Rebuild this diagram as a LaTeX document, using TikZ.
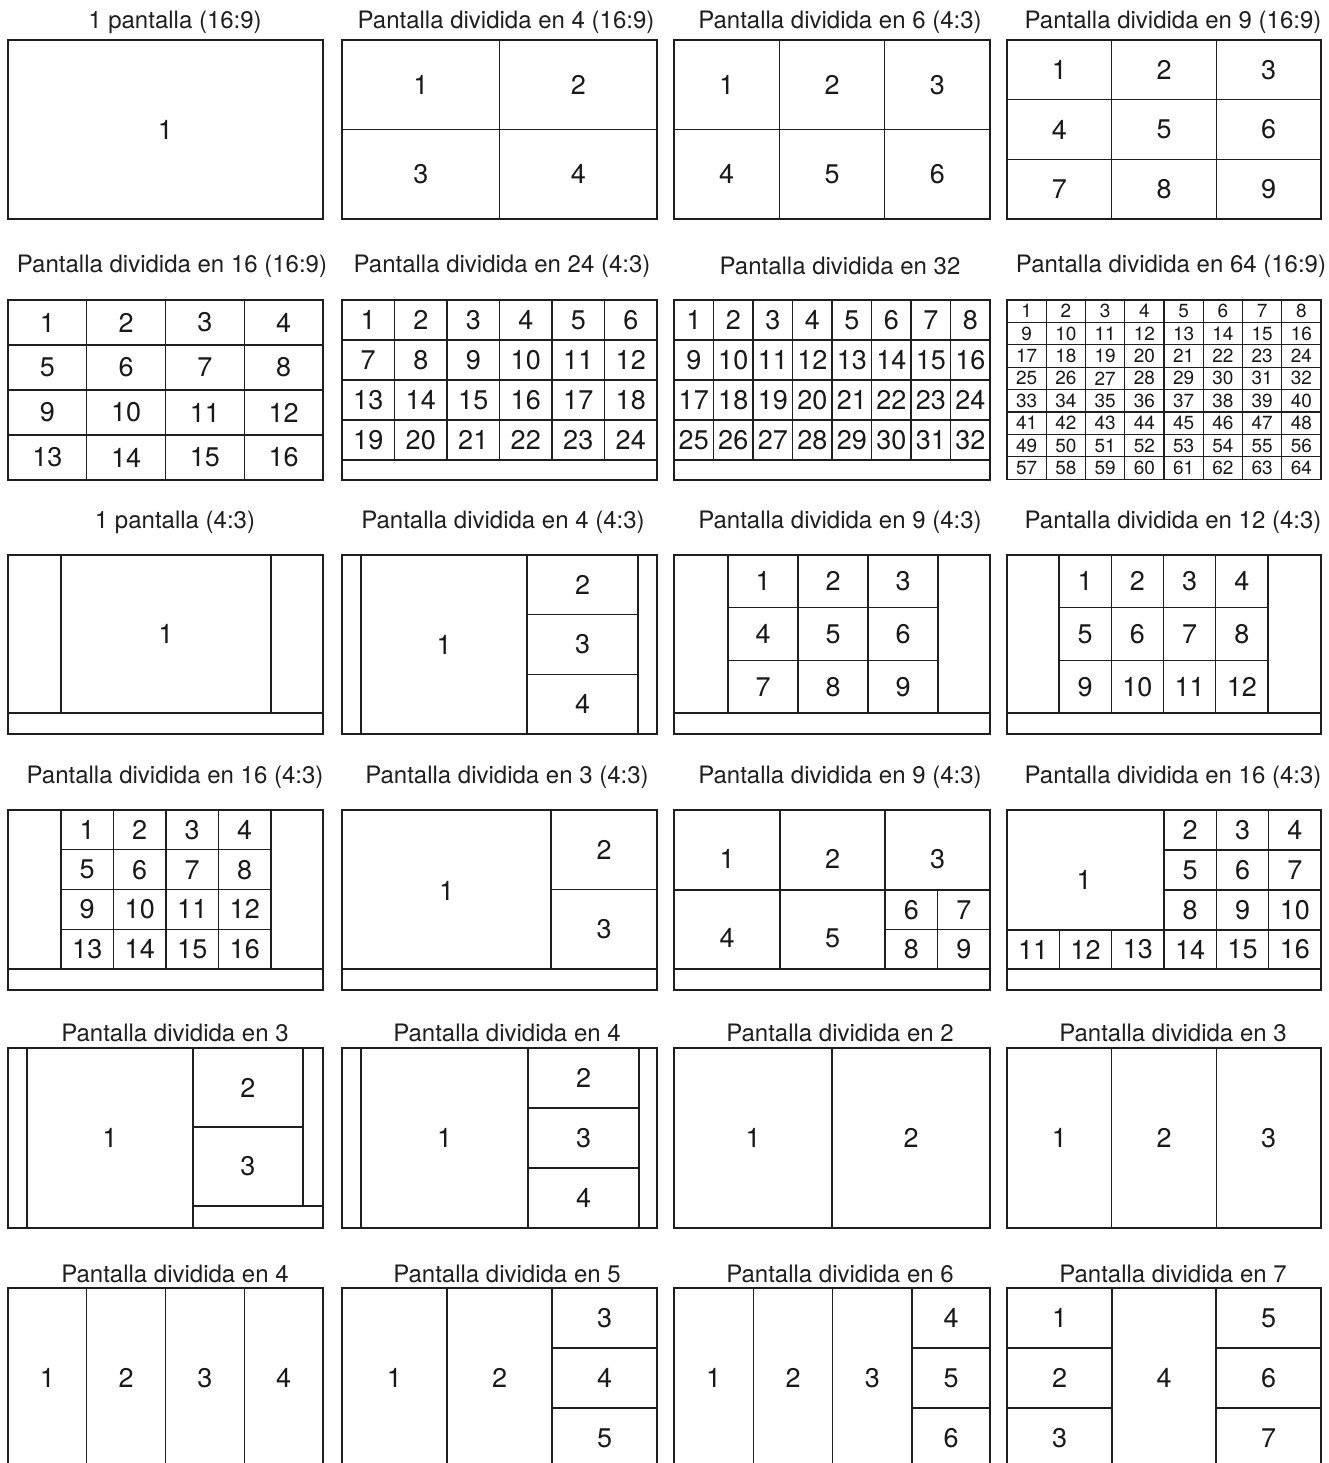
\documentclass[tikz,border=0pt]{standalone}
\usepackage{fontspec}
\setmainfont{TeX Gyre Heros}
\tikzset{
  ln/.style={draw=black!88, line width=1.3pt},
  ttl/.style={font=\fontsize{24}{28}\selectfont, text=black!88, inner sep=0pt},
  num/.style={font=\fontsize{27}{30}\selectfont, text=black!90, inner sep=0pt},
  snum/.style={font=\fontsize{19}{21}\selectfont, text=black!90, inner sep=0pt},
}
% #1 prefix, #2 x0, #3 y0, #4 cell w, #5 cell h, #6 cols, #7 rows, #8 first number, #9 style
\newcommand{\numgrid}[9]{%
  \foreach \rr in {1,...,#7}{%
    \foreach \cc in {1,...,#6}{%
      \pgfmathtruncatemacro{\cellnum}{#8+(\rr-1)*#6+\cc-1}%
      \draw[ln] ({#2+(\cc-1)*#4},{#3+(\rr-1)*#5}) rectangle ++(#4,#5);%
      \node[#9] (#1-\cellnum) at ({#2+(\cc-0.5)*#4},{#3+(\rr-0.5)*#5}) {\cellnum};%
    }%
  }%
}
\begin{document}
\begin{tikzpicture}[x=1pt,y=-1pt]
\useasboundingbox (0,0) rectangle (1328,1463);
\fill[white] (0,0) rectangle (1328,1463);

% ---------- titles ----------
\node[ttl] (t11) at (175,22) {1 pantalla (16:9)};
\node[ttl] (t12) at (506,22) {Pantalla dividida en 4 (16:9)};
\node[ttl] (t13) at (840,22) {Pantalla dividida en 6 (4:3)};
\node[ttl] (t14) at (1173,22) {Pantalla dividida en 9 (16:9)};

\node[ttl] (t21) at (172,266) {Pantalla dividida en 16 (16:9)};
\node[ttl] (t22) at (502,266) {Pantalla dividida en 24 (4:3)};
\node[ttl] (t23) at (840,266) {Pantalla dividida en 32};
\node[ttl] (t24) at (1171,266) {Pantalla dividida en 64 (16:9)};

\node[ttl] (t31) at (175,522) {1 pantalla (4:3)};
\node[ttl] (t32) at (503,522) {Pantalla dividida en 4 (4:3)};
\node[ttl] (t33) at (840,522) {Pantalla dividida en 9 (4:3)};
\node[ttl] (t34) at (1173,522) {Pantalla dividida en 12 (4:3)};

\node[ttl] (t41) at (175,777) {Pantalla dividida en 16 (4:3)};
\node[ttl] (t42) at (507,777) {Pantalla dividida en 3 (4:3)};
\node[ttl] (t43) at (840,777) {Pantalla dividida en 9 (4:3)};
\node[ttl] (t44) at (1173,777) {Pantalla dividida en 16 (4:3)};

\node[ttl] (t51) at (175,1033) {Pantalla dividida en 3};
\node[ttl] (t52) at (507,1033) {Pantalla dividida en 4};
\node[ttl] (t53) at (840,1033) {Pantalla dividida en 2};
\node[ttl] (t54) at (1173,1033) {Pantalla dividida en 3};

\node[ttl] (t61) at (175,1274) {Pantalla dividida en 4};
\node[ttl] (t62) at (507,1274) {Pantalla dividida en 5};
\node[ttl] (t63) at (840,1274) {Pantalla dividida en 6};
\node[ttl] (t64) at (1173,1274) {Pantalla dividida en 7};

% ---------- row 1 ----------
\numgrid{aA}{8}{40}{315}{179}{1}{1}{1}{num}
\numgrid{aB}{342}{40}{157.5}{89.5}{2}{2}{1}{num}
\numgrid{aC}{674}{40}{105.33}{89.5}{3}{2}{1}{num}
\numgrid{aD}{1007}{40}{104.67}{59.67}{3}{3}{1}{num}

% ---------- row 2 ----------
\numgrid{bA}{8}{300}{78.75}{45}{4}{4}{1}{num}
\draw[ln] (342,300) rectangle (657,480);
\numgrid{bB}{342}{300}{52.5}{40}{6}{4}{1}{num}
\draw[ln] (674,300) rectangle (990,480);
\numgrid{bC}{674}{300}{39.5}{40}{8}{4}{1}{num}
\numgrid{bD}{1007}{300}{39.25}{22.4}{8}{8}{1}{snum}

% ---------- row 3 ----------
\draw[ln] (8,555) rectangle (323,734);
\draw[ln] (8,713) -- (323,713);
\draw[ln] (61,555) rectangle (271,713);
\node[num] (cA-1) at (166,634) {1};

\draw[ln] (342,555) rectangle (657,734);
\draw[ln] (361,555) -- (361,734);
\draw[ln] (638,555) -- (638,734);
\node[num] (cB-1) at (444,644.5) {1};
\numgrid{cB}{527}{555}{111}{59.67}{1}{3}{2}{num}

\draw[ln] (674,555) rectangle (990,734);
\draw[ln] (674,713) -- (990,713);
\numgrid{cC}{728}{555}{70}{52.67}{3}{3}{1}{num}

\draw[ln] (1007,555) rectangle (1321,734);
\draw[ln] (1007,713) -- (1321,713);
\numgrid{cD}{1059}{555}{52.25}{52.67}{4}{3}{1}{num}

% ---------- row 4 ----------
\draw[ln] (8,810) rectangle (323,990);
\draw[ln] (8,969) -- (323,969);
\numgrid{dA}{61}{810}{52.5}{39.75}{4}{4}{1}{num}

\draw[ln] (342,810) rectangle (657,990);
\draw[ln] (342,969) -- (657,969);
\node[num] (dB-1) at (446.5,891) {1};
\numgrid{dB}{551}{810}{106}{79.5}{1}{2}{2}{num}

\draw[ln] (674,810) rectangle (990,990);
\draw[ln] (674,969) -- (990,969);
\draw[ln] (674,890) -- (990,890);
\draw[ln] (780,810) -- (780,969);
\draw[ln] (885,810) -- (885,969);
\node[num] (dC-1) at (727,859) {1};
\node[num] (dC-2) at (832.5,859) {2};
\node[num] (dC-3) at (937.5,859) {3};
\node[num] (dC-4) at (727,938) {4};
\node[num] (dC-5) at (832.5,938) {5};
\numgrid{dC}{885}{890}{52.5}{39.5}{2}{2}{6}{num}

\draw[ln] (1007,810) rectangle (1321,990);
\draw[ln] (1007,969) -- (1321,969);
\draw[ln] (1007,810) rectangle (1164,930);
\node[num] (dD-1) at (1084,880) {1};
\numgrid{dD}{1164}{810}{52.33}{40}{3}{3}{2}{num}
\numgrid{dD}{1007}{930}{52.33}{39}{6}{1}{11}{num}

% ---------- row 5 ----------
\draw[ln] (8,1048) rectangle (323,1228);
\draw[ln] (27,1048) -- (27,1228);
\draw[ln] (193,1048) -- (193,1228);
\draw[ln] (303,1048) -- (303,1206);
\draw[ln] (193,1127) -- (303,1127);
\draw[ln] (193,1206) -- (323,1206);
\node[num] (eA-1) at (110,1138) {1};
\node[num] (eA-2) at (248,1087.5) {2};
\node[num] (eA-3) at (248,1166.5) {3};

\draw[ln] (342,1048) rectangle (657,1228);
\draw[ln] (361,1048) -- (361,1228);
\draw[ln] (639,1048) -- (639,1228);
\node[num] (eB-1) at (444.5,1138) {1};
\numgrid{eB}{528}{1048}{111}{60}{1}{3}{2}{num}

\numgrid{eC}{674}{1048}{158}{180}{2}{1}{1}{num}
\numgrid{eD}{1007}{1048}{104.67}{180}{3}{1}{1}{num}

% ---------- row 6 ----------
\numgrid{fA}{8}{1288}{78.75}{180}{4}{1}{1}{num}
\numgrid{fB}{342}{1288}{105}{180}{2}{1}{1}{num}
\numgrid{fB}{552}{1288}{105}{60}{1}{3}{3}{num}
\numgrid{fC}{674}{1288}{79.33}{180}{3}{1}{1}{num}
\numgrid{fC}{912}{1288}{78}{60}{1}{3}{4}{num}
\numgrid{fD}{1007}{1288}{105}{60}{1}{3}{1}{num}
\draw[ln] (1112,1288) rectangle (1216,1468);
\node[num] (fD-4) at (1164,1378) {4};
\numgrid{fD}{1216}{1288}{105}{60}{1}{3}{5}{num}
\end{tikzpicture}
\end{document}
